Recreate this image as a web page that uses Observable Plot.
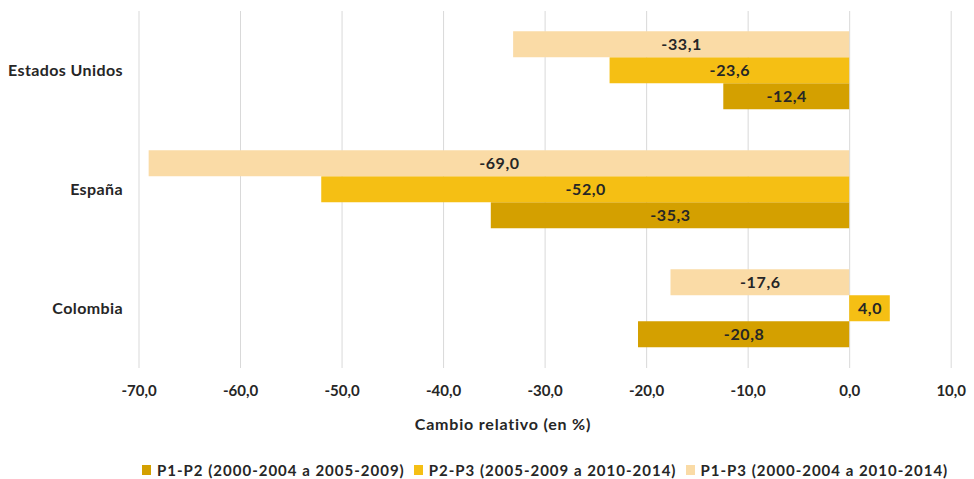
<!DOCTYPE html>
<html>
<head>
<meta charset="utf-8">
<script src="https://cdn.jsdelivr.net/npm/d3@7"></script>
<script src="https://cdn.jsdelivr.net/npm/@observablehq/plot@0.6"></script>
<style>
  body { margin: 0; background: #fff; }
  #grafico { position: relative; width: 974px; height: 479px; font-family: Lato, sans-serif; font-weight: 700; color: #262626; }
  #titulo-x { position: absolute; left: 503px; top: 423px; transform: translate(-50%, -50%); white-space: nowrap; font-size: 16px; letter-spacing: 0.8px; }
  #leyenda { position: absolute; left: 142px; top: 470px; transform: translateY(-50%); display: flex; align-items: center; white-space: nowrap; font-size: 15px; letter-spacing: 1px; }
  #leyenda .item { display: flex; align-items: center; margin-right: 9px; }
  #leyenda .cuadro { width: 9px; height: 10px; margin-right: 6px; }
  #grafico svg [aria-label="fy-axis tick label"] { letter-spacing: 0.4px; }
  #grafico svg [aria-label="text"] { letter-spacing: 0.6px; }
</style>
</head>
<body>
<div id="grafico">
  <div id="titulo-x">Cambio relativo (en %)</div>
  <div id="leyenda"></div>
</div>
<script>
// Países (de arriba hacia abajo)
const paises = ["Estados Unidos", "España", "Colombia"];

// Series de cambio relativo entre periodos
const series = [
  "P1-P2 (2000-2004 a 2005-2009)",
  "P2-P3 (2005-2009 a 2010-2014)",
  "P1-P3 (2000-2004 a 2010-2014)"
];
const valoresP1P2 = [-12.4, -35.3, -20.8];
const valoresP2P3 = [-23.6, -52.0, 4.0];
const valoresP1P3 = [-33.1, -69.0, -17.6];

const colores = ["#D4A000", "#F5BF14", "#FADBA6"];
const ticksX = [-70, -60, -50, -40, -30, -20, -10, 0, 10];

// Tabla larga para Plot
const valoresPorSerie = [valoresP1P2, valoresP2P3, valoresP1P3];
const datos = [];
paises.forEach((pais, i) => {
  series.forEach((serie, j) => {
    datos.push({pais, serie, valor: valoresPorSerie[j][i]});
  });
});

// Formato con coma decimal y guion como signo negativo
const fmt = d3.formatLocale({decimal: ",", thousands: ".", grouping: [3], currency: ["", " €"], minus: "-"}).format(".1f");

const alto = 405;
const chart = Plot.plot({
  width: 974,
  height: alto,
  marginTop: 9.75,
  marginBottom: alto - 368.25,
  marginLeft: 138.5,
  marginRight: 23.3,
  style: {fontFamily: "Lato, sans-serif", fontWeight: 700, color: "#262626", fontSize: "15px", background: "white"},
  x: {domain: [-70, 10], ticks: ticksX, tickFormat: fmt},
  y: {domain: [series[2], series[1], series[0]], paddingInner: 0, paddingOuter: 0.75, axis: null},
  fy: {domain: paises, padding: 0},
  color: {domain: series, range: colores},
  marks: [
    Plot.gridX(ticksX, {stroke: "#d9d9d9", strokeOpacity: 1, strokeWidth: 1}),
    Plot.barX(datos, {x: "valor", y: "serie", fy: "pais", fill: "serie"}),
    Plot.text(datos, {
      x: d => d.valor / 2, y: "serie", fy: "pais",
      text: d => fmt(d.valor), fill: "#262626", fontSize: 16, fontWeight: 700
    }),
    Plot.axisX(ticksX, {tickSize: 0, tickPadding: 17, tickFormat: fmt, label: null, fontSize: 15}),
    Plot.axisFy({anchor: "left", tickSize: 0, tickPadding: 16, label: null, fontSize: 16})
  ]
});
const contenedor = document.getElementById("grafico");
contenedor.insertBefore(chart, contenedor.firstChild);

// Leyenda
const leyenda = document.getElementById("leyenda");
series.forEach((serie, j) => {
  const item = document.createElement("div");
  item.className = "item";
  const cuadro = document.createElement("span");
  cuadro.className = "cuadro";
  cuadro.style.background = colores[j];
  const texto = document.createElement("span");
  texto.textContent = serie;
  item.appendChild(cuadro);
  item.appendChild(texto);
  leyenda.appendChild(item);
});
</script>
</body>
</html>
